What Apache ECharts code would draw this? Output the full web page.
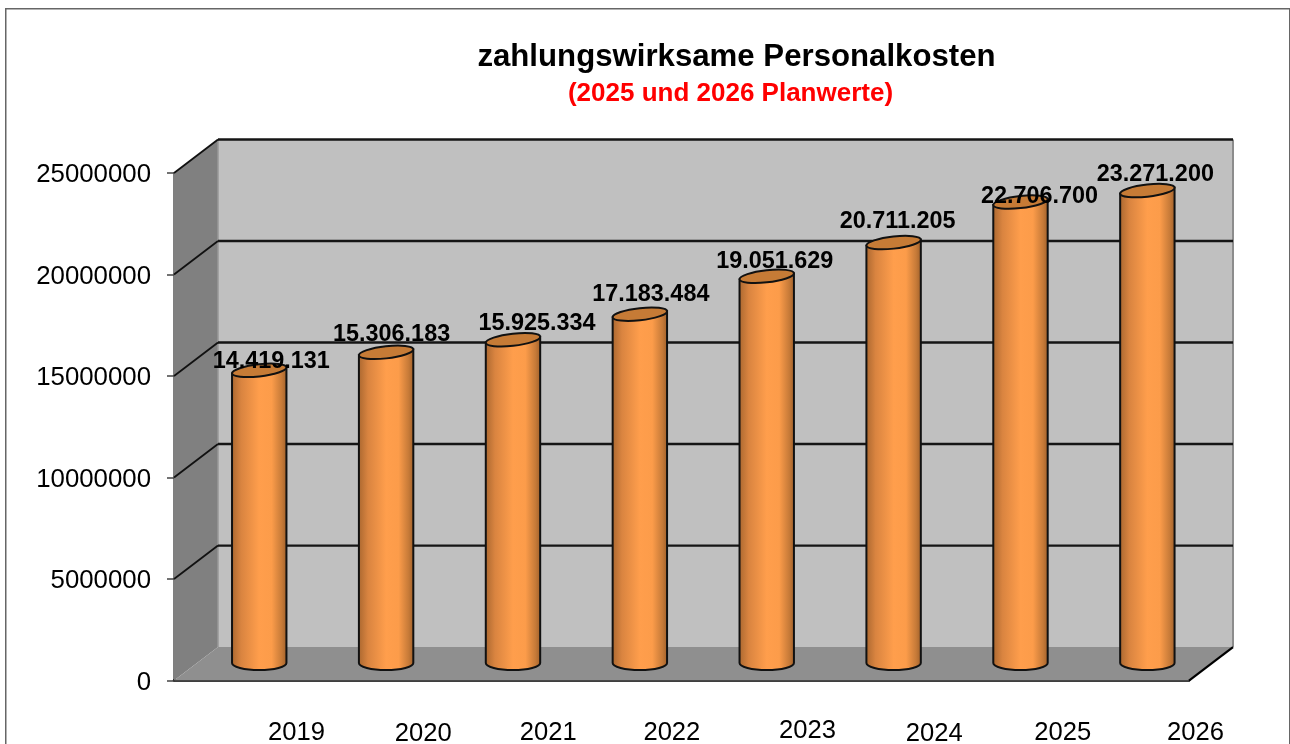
<!DOCTYPE html>
<html>
<head>
<meta charset="utf-8">
<style>html,body{margin:0;padding:0;background:#fff;overflow:hidden}#c{width:1290px;height:744px}</style>
<script src="https://cdn.jsdelivr.net/npm/echarts@6/dist/echarts.min.js"></script>
</head>
<body>
<div id="c"></div>
<script>
const years = ['2019','2020','2021','2022','2023','2024','2025','2026'];
const costs = [14419131,15306183,15925334,17183484,19051629,20711205,22706700,23271200];
const yTicks = [0,5000000,10000000,15000000,20000000,25000000];
const titleText = 'zahlungswirksame Personalkosten';
const subtitleText = '(2025 und 2026 Planwerte)';

// hand placement seen in the reference (pixels relative to the cylinder top)
const labelDx = [12,5.5,24,11,8,4,19,8];
const labelDy = [-9.2,-18.2,-16.2,-19.5,-15.2,-21.2,-5.7,-16];
// x-axis label drift (pixels)
const tickDx = [59,59,57,53.8,62.5,62.5,64,70];
const tickDy = [1.5,2,1.5,1.5,0.5,2,1.5,1.5];

const FONT = '"Liberation Sans", Arial, sans-serif';
const DEPTH_X = 44, DEPTH_Y = 33.5;
const MID_X = 21.8, MID_Y = 17.5;

function fmt(v){ return String(v).replace(/\B(?=(\d{3})+$)/g,'.'); }

function renderWalls(params, api){
  const cs = params.coordSys;
  const l = cs.x, r = cs.x + cs.width;
  const b = api.coord([0,0])[1], t = api.coord([0,25000000])[1];
  const poly = (pts, fill) => ({type:'polygon',shape:{points:pts},style:{fill:fill,stroke:null}});
  return {type:'group',children:[
    poly([[l+DEPTH_X,t-DEPTH_Y],[r+DEPTH_X,t-DEPTH_Y],[r+DEPTH_X,b-DEPTH_Y],[l+DEPTH_X,b-DEPTH_Y]],'#C0C0C0'),
    poly([[l,t],[l+DEPTH_X,t-DEPTH_Y],[l+DEPTH_X,b-DEPTH_Y],[l,b]],'#808080'),
    poly([[l,b],[l+DEPTH_X,b-DEPTH_Y],[r+DEPTH_X,b-DEPTH_Y],[r,b]],'#8F8F8F'),
    {type:'line',shape:{x1:l+DEPTH_X,y1:t-DEPTH_Y,x2:l+DEPTH_X,y2:b-DEPTH_Y},style:{stroke:'#999999',lineWidth:1.5}},
    {type:'line',shape:{x1:r+DEPTH_X,y1:t-DEPTH_Y,x2:r+DEPTH_X,y2:b-DEPTH_Y},style:{stroke:'#8C8C8C',lineWidth:2}},
    {type:'line',shape:{x1:r,y1:b,x2:r+DEPTH_X,y2:b-DEPTH_Y},style:{stroke:'#000',lineWidth:2.2}}
  ]};
}

function renderGrid(params, api){
  const cs = params.coordSys;
  const l = cs.x, r = cs.x + cs.width;
  const y = api.coord([0,api.value(0)])[1];
  return {type:'group',children:[
    {type:'line',shape:{x1:l,y1:y,x2:l+DEPTH_X,y2:y-DEPTH_Y},style:{stroke:'#111',lineWidth:1.8}},
    {type:'line',shape:{x1:l+DEPTH_X,y1:y-DEPTH_Y,x2:r+DEPTH_X,y2:y-DEPTH_Y},style:{stroke:'#151515',lineWidth:2.4}}
  ]};
}

function renderCylinder(params, api){
  const i = api.value(0), v = api.value(1);
  const top = api.coord([i,v]), base = api.coord([i,0]);
  const cx = top[0] + MID_X, ty = top[1] - MID_Y, by = base[1] - MID_Y;
  const rx = 27.2, tilt = 3.0;
  const body = `M${cx-rx} ${ty+tilt} L${cx-rx} ${by} A${rx} 7 0 0 0 ${cx+rx} ${by} L${cx+rx} ${ty-tilt} Z`;
  const cap = `M${cx-rx} ${ty+tilt} A${rx} 6 -6.5 1 1 ${cx+rx} ${ty-tilt} A${rx} 6 -6.5 1 1 ${cx-rx} ${ty+tilt} Z`;
  return {type:'group',children:[
    {type:'path',shape:{pathData:body},style:{
      stroke:'#111',lineWidth:2,
      fill:{type:'linear',x:0,y:0,x2:1,y2:0,colorStops:[
        {offset:0,color:'#A8662F'},{offset:0.18,color:'#D98440'},{offset:0.5,color:'#FF9E4C'},
        {offset:0.72,color:'#FC9C4A'},{offset:0.9,color:'#C67A38'},{offset:1,color:'#9C5E2A'}]}
    }},
    {type:'path',shape:{pathData:cap},style:{stroke:'#111',lineWidth:2,fill:'#C67B36'}},
    {type:'text',style:{
      x:cx+labelDx[i],y:ty+labelDy[i],text:fmt(v),align:'center',verticalAlign:'middle',
      font:'bold 23.4px '+FONT,fill:'#000'
    },z2:10}
  ]};
}

const chart = echarts.init(document.getElementById('c'),null,{renderer:'canvas'});
chart.setOption({
  animation:false,
  backgroundColor:'#fff',
  graphic:[{type:'rect',left:5,top:8,z:-10,shape:{width:1284,height:800},style:{fill:'#fff',stroke:'#666',lineWidth:1.5}}],
  title:[
    {text:titleText,left:736.5,top:42,padding:0,textAlign:'center',textStyle:{fontFamily:FONT,fontWeight:'bold',fontSize:31.2,color:'#000'}},
    {text:subtitleText,left:730.5,top:81,padding:0,textAlign:'center',textStyle:{fontFamily:FONT,fontWeight:'bold',fontSize:26,color:'#FF0000'}}
  ],
  grid:{left:174,top:173,width:1015,height:507.6,outerBoundsMode:'none'},
  xAxis:{
    type:'category',
    data:years.map((y,i)=>({value:y,textStyle:{padding:[tickDy[i]*2,0,0,tickDx[i]*2]}})),
    axisTick:{show:false},
    axisLine:{lineStyle:{color:'#000',width:2.5}},
    axisLabel:{interval:0,margin:36,color:'#000',fontFamily:FONT,fontSize:25.6,hideOverlap:false}
  },
  yAxis:{
    type:'value',min:0,max:25000000,interval:5000000,
    axisLine:{show:true,lineStyle:{color:'#555',width:1.5}},
    axisTick:{show:true,length:7,lineStyle:{color:'#444',width:1.5}},
    axisLabel:{
      margin:23,color:'#000',fontFamily:FONT,fontSize:25.8,
      formatter:v=>'{n|'+v+'}',
      rich:{n:{padding:[4,0,0,0],color:'#000',fontFamily:FONT,fontSize:25.8}}
    },
    splitLine:{show:false}
  },
  series:[
    {type:'custom',z:1,silent:true,clip:false,data:[[0]],encode:{x:0},renderItem:renderWalls},
    {type:'custom',z:2,silent:true,clip:false,data:yTicks.slice(1).map(v=>[v]),encode:{y:0},renderItem:renderGrid},
    {type:'custom',z:3,silent:true,clip:false,data:costs.map((v,i)=>[i,v]),encode:{x:0,y:1},renderItem:renderCylinder}
  ]
});
</script>
</body>
</html>
